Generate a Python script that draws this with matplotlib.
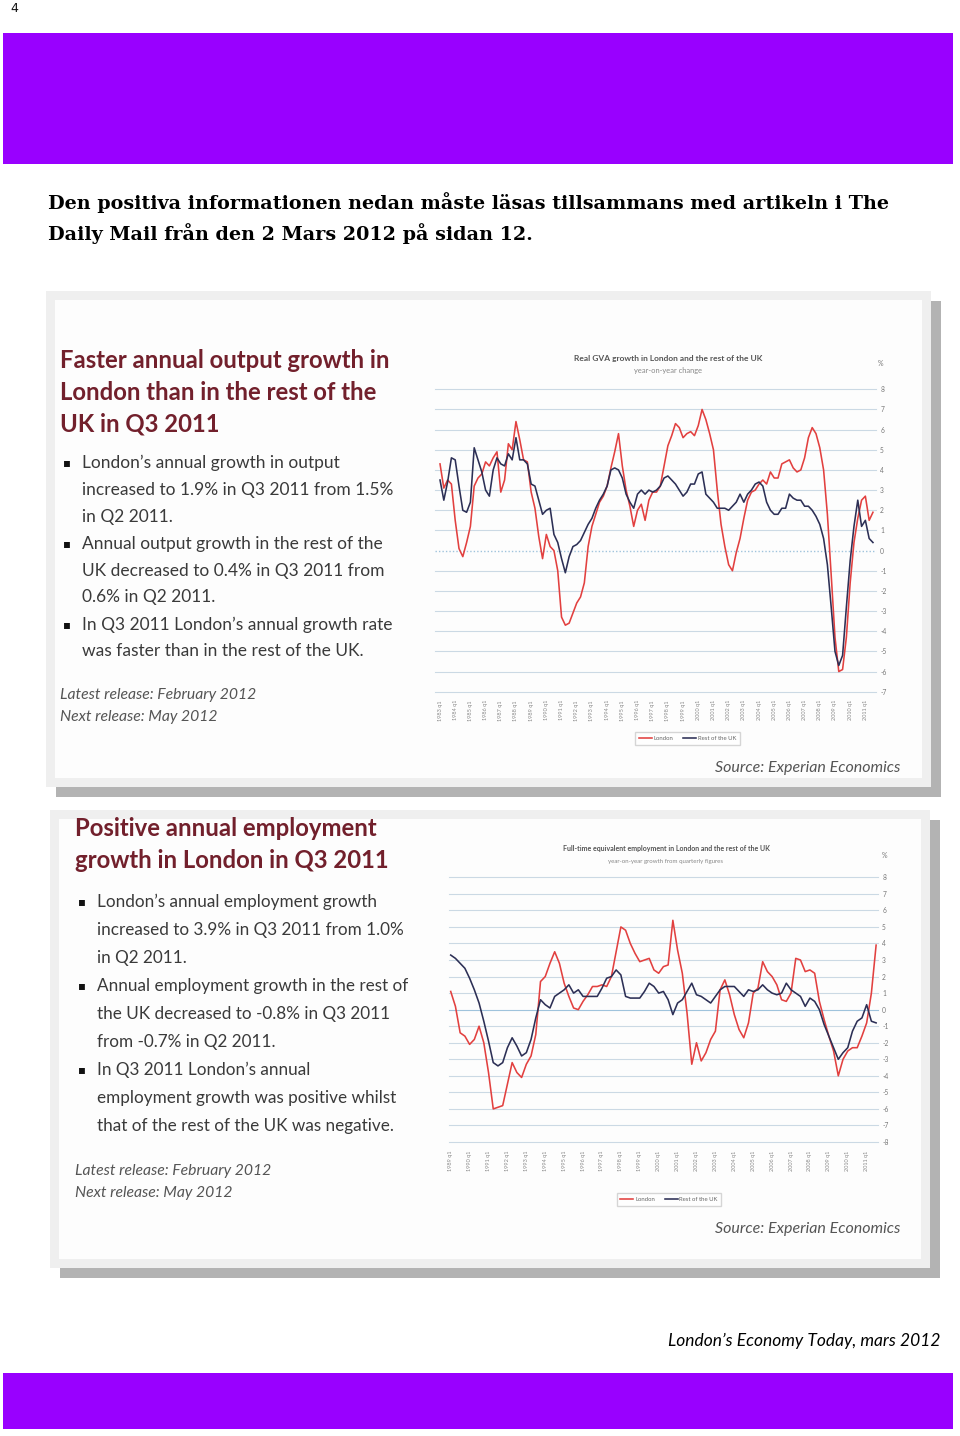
import matplotlib
matplotlib.use('Agg')
import matplotlib.pyplot as plt
from matplotlib.patches import Rectangle

plt.rcParams['font.family'] = ['Lato', 'DejaVu Sans']

# ---- data: real GVA growth, y/y %, 1983 q1 .. 2011 q3
gva_start_year = 1983
gva_london = [4.3, 3.1, 3.5, 3.3, 1.5, 0.1, -0.3, 0.4, 1.2, 3.2, 3.6, 3.8,
              4.4, 4.2, 4.6, 4.9, 2.9, 3.5, 5.3, 5.0, 6.4, 5.5, 4.5, 4.4,
              2.9, 2.1, 0.7, -0.4, 0.8, 0.2, 0.0, -1.0, -3.3, -3.7, -3.6, -3.1,
              -2.6, -2.3, -1.6, 0.2, 1.2, 1.8, 2.4, 2.7, 3.2, 4.1, 4.9, 5.8,
              4.2, 3.0, 2.2, 1.2, 2.0, 2.3, 1.5, 2.5, 2.9, 2.9, 3.2, 4.2,
              5.2, 5.7, 6.3, 6.1, 5.6, 5.8, 5.9, 5.7, 6.2, 7.0, 6.5, 5.8,
              5.0, 3.0, 1.3, 0.2, -0.7, -1.0, -0.1, 0.6, 1.6, 2.5, 2.9, 3.0,
              3.3, 3.5, 3.3, 3.9, 3.6, 3.6, 4.3, 4.4, 4.5, 4.1, 3.9, 4.0,
              4.6, 5.6, 6.1, 5.8, 5.1, 4.0, 1.8, -1.2, -4.3, -6.0, -5.9, -4.3,
              -1.6, 0.4, 1.6, 2.5, 2.7, 1.5, 1.9]
gva_rest = [3.5, 2.5, 3.4, 4.6, 4.5, 3.2, 2.0, 1.9, 2.4, 5.1, 4.5, 3.9,
            3.0, 2.7, 4.0, 4.6, 4.3, 4.2, 4.8, 4.5, 5.6, 4.5, 4.5, 4.3,
            3.3, 3.2, 2.5, 1.8, 2.0, 2.1, 0.8, 0.4, -0.4, -1.1, -0.3, 0.2,
            0.3, 0.5, 0.9, 1.3, 1.6, 2.1, 2.5, 2.8, 3.2, 4.0, 4.1, 4.0,
            3.6, 2.8, 2.4, 2.1, 2.8, 3.0, 2.8, 3.0, 2.9, 3.0, 3.2, 3.6,
            3.7, 3.5, 3.3, 3.0, 2.7, 2.9, 3.3, 3.3, 3.8, 3.9, 2.8, 2.6,
            2.4, 2.1, 2.1, 2.1, 2.0, 2.2, 2.4, 2.8, 2.4, 2.8, 3.0, 3.3,
            3.4, 3.2, 2.4, 2.0, 1.8, 1.8, 2.1, 2.1, 2.8, 2.6, 2.5, 2.5,
            2.2, 2.2, 2.0, 1.7, 1.3, 0.6, -0.7, -2.8, -5.0, -5.7, -5.2, -2.8,
            -0.5, 1.2, 2.5, 1.2, 1.5, 0.6, 0.4]

# ---- data: FTE employment growth, y/y %, 1989 q1 .. 2011 q3
emp_start_year = 1989
emp_london = [1.1, 0.2, -1.4, -1.6, -2.1, -1.8, -1.0, -2.0, -3.8, -6.0, -5.9, -5.8,
              -4.5, -3.2, -3.8, -4.1, -3.3, -2.8, -1.5, 1.7, 2.0, 2.8, 3.5, 2.8,
              1.6, 0.8, 0.1, 0.0, 0.5, 0.9, 1.4, 1.4, 1.5, 1.4, 2.0, 3.5,
              5.0, 4.8, 4.0, 3.4, 2.9, 3.0, 3.1, 2.4, 2.2, 2.6, 2.7, 5.4,
              3.6, 2.2, -0.2, -3.3, -2.0, -3.1, -2.6, -1.8, -1.3, 1.2, 1.8, 0.9,
              -0.3, -1.2, -1.7, -0.8, 1.0, 1.3, 2.9, 2.3, 2.0, 1.5, 0.6, 0.5,
              1.0, 3.1, 3.0, 2.3, 2.4, 2.2, 0.5, -0.6, -1.6, -2.5, -4.0, -3.0,
              -2.5, -2.3, -2.3, -1.6, -0.8, 1.0, 3.9]
emp_rest = [3.3, 3.1, 2.8, 2.5, 1.9, 1.2, 0.4, -0.7, -1.9, -3.2, -3.4, -3.2,
            -2.3, -1.7, -2.2, -2.8, -2.6, -1.8, -0.5, 0.6, 0.3, 0.1, 0.8, 1.0,
            1.2, 1.5, 1.0, 1.2, 0.8, 0.8, 0.8, 0.8, 1.3, 1.9, 2.0, 2.4,
            2.1, 0.8, 0.7, 0.7, 0.7, 1.1, 1.6, 1.4, 1.0, 1.1, 0.6, -0.3,
            0.4, 0.6, 1.1, 1.6, 0.9, 0.8, 0.6, 0.4, 0.8, 1.2, 1.4, 1.4,
            1.4, 1.1, 0.8, 1.2, 1.1, 1.2, 1.5, 1.2, 1.0, 0.9, 1.0, 1.6,
            1.2, 1.0, 0.8, 0.2, 0.7, 0.5, 0.0, -0.9, -1.6, -2.3, -3.0, -2.6,
            -2.3, -1.3, -0.7, -0.5, 0.3, -0.7, -0.8]

series_names = ['London', 'Rest of the UK']

header_lines = ['Den positiva informationen nedan måste läsas tillsammans med artikeln i The',
                'Daily Mail från den 2 Mars 2012 på sidan 12.']

gva_title = ['Faster annual output growth in', 'London than in the rest of the', 'UK in Q3 2011']
gva_bullets = [['London’s annual growth in output',
                'increased to 1.9% in Q3 2011 from 1.5%',
                'in Q2 2011.'],
               ['Annual output growth in the rest of the',
                'UK decreased to 0.4% in Q3 2011 from',
                '0.6% in Q2 2011.'],
               ['In Q3 2011 London’s annual growth rate',
                'was faster than in the rest of the UK.']]
emp_title = ['Positive annual employment', 'growth in London in Q3 2011']
emp_bullets = [['London’s annual employment growth',
                'increased to 3.9% in Q3 2011 from 1.0%',
                'in Q2 2011.'],
               ['Annual employment growth in the rest of',
                'the UK decreased to -0.8% in Q3 2011',
                'from -0.7% in Q2 2011.'],
               ['In Q3 2011 London’s annual',
                'employment growth was positive whilst',
                'that of the rest of the UK was negative.']]
release_lines = ['Latest release: February 2012', 'Next release: May 2012']

W, H = 960, 1436
PURPLE = '#9900ff'
MAROON = '#72202c'
RED = '#e2403f'
NAVY = '#2c2f55'
GRID = '#cbd9e4'

fig = plt.figure(figsize=(W / 100, H / 100), dpi=100)
bg = fig.add_axes([0, 0, 1, 1])
bg.set_xlim(0, W)
bg.set_ylim(H, 0)
bg.axis('off')


def box(x0, y0, x1, y1, color, z=0):
    bg.add_patch(Rectangle((x0, y0), x1 - x0, y1 - y0, facecolor=color, edgecolor='none', zorder=z))


# page furniture
bg.text(10, 9, '4', fontsize=9, family='DejaVu Sans', va='center', ha='left', color='#111')
box(3, 33, 953, 164, PURPLE)
box(3, 1373, 953, 1429, PURPLE)
for k, line in enumerate(header_lines):
    bg.text(48, 203 + k * 31, line, fontsize=13.75, family='DejaVu Serif', weight='bold',
            va='center', ha='left', color='#000')
bg.text(940, 1341, 'London’s Economy Today, mars 2012', fontsize=12.5, style='italic',
        va='center', ha='right', color='#000')

# the two framed panels (shadow, light frame, white page)
for (x0, y0, x1, y1) in [(46, 291, 931, 787), (50, 810, 930, 1268)]:
    box(x0 + 10, y0 + 10, x1 + 10, y1 + 10, '#b3b3b3', 1)
    box(x0, y0, x1, y1, '#efefef', 2)
    box(x0 + 9, y0 + 9, x1 - 9, y1 - 9, '#fdfdfd', 3)


def panel_text(x, title, title_y, bullets, bullet_y, dy, release_y, size):
    for k, line in enumerate(title):
        bg.text(x, title_y + k * 32, line, fontsize=17.2, weight='bold', color=MAROON,
                va='center', ha='left', zorder=5)
    y = bullet_y
    for group in bullets:
        bg.text(x + 3, y, '▪', fontsize=8.5, family='DejaVu Sans', color='#111',
                va='center', ha='left', zorder=5)
        for line in group:
            bg.text(x + 22, y, line, fontsize=size, color='#3a3a3a', va='center', ha='left', zorder=5)
            y += dy
    for k, line in enumerate(release_lines):
        bg.text(x, release_y + k * 22.5, line, fontsize=11.3, style='italic', color='#555',
                va='center', ha='left', zorder=5)


panel_text(60, gva_title, 360, gva_bullets, 463, 26.9, 695, 12.5)
panel_text(75, emp_title, 829, emp_bullets, 902, 28, 1171, 12.3)

bg.text(900, 768, 'Source: Experian Economics', fontsize=11.5, style='italic', color='#555',
        va='center', ha='right', zorder=5)
bg.text(900, 1229, 'Source: Experian Economics', fontsize=11.5, style='italic', color='#555',
        va='center', ha='right', zorder=5)


def chart(px_left, px_right, px_top, px_bottom, xlim, ylim, start_year, london, rest,
          title, subtitle, title_xy, title_size, pct_xy, legend_xy, dotted_zero):
    ax = fig.add_axes([px_left / W, 1 - px_bottom / H, (px_right - px_left) / W,
                       (px_bottom - px_top) / H])
    ax.set_zorder(6)
    ax.patch.set_alpha(0)
    q = list(range(len(london)))
    ax.plot(q, london, color=RED, lw=1.15, label=series_names[0], zorder=3)
    ax.plot(q, rest, color=NAVY, lw=1.15, label=series_names[1], zorder=4)
    ax.set_xlim(*xlim)
    ax.set_ylim(*ylim)
    years = list(range(start_year, start_year + (len(london) - 1) // 4 + 1))
    ax.set_xticks([4 * k for k in range(len(years))])
    ax.set_xticklabels([f'{y} q1' for y in years], rotation=90, fontsize=4, color='#888')
    ax.set_yticks(list(range(ylim[0], ylim[1] + 1)))
    ax.set_yticklabels([str(v) for v in range(ylim[0], ylim[1] + 1)], fontsize=4.8, color='#777')
    ax.yaxis.tick_right()
    ax.tick_params(axis='both', length=0)
    ax.tick_params(axis='x', pad=6)
    ax.tick_params(axis='y', pad=3)
    ax.grid(axis='y', color=GRID, lw=0.8)
    ax.set_axisbelow(True)
    for gl in ax.yaxis.get_gridlines():
        gl.set_clip_on(False)
    for s in ax.spines.values():
        s.set_visible(False)
    zero = ax.yaxis.get_gridlines()[-ylim[0]]
    zero.set_color('#9fc3dc')
    if dotted_zero:
        zero.set_linestyle((0, (1, 1.5)))
        zero.set_linewidth(1.0)
    leg = ax.legend(loc='center', bbox_to_anchor=(legend_xy[0] / W, 1 - legend_xy[1] / H),
                    bbox_transform=fig.transFigure, ncol=2, fontsize=4.3, frameon=True,
                    fancybox=False, edgecolor='#cccccc', handlelength=2.2, columnspacing=1.6,
                    borderpad=0.6, handletextpad=0.3)
    for t in leg.get_texts():
        t.set_color('#666')
    bg.text(title_xy[0], title_xy[1], title, fontsize=title_size, weight='bold', color='#555',
            ha='center', va='center', zorder=7)
    bg.text(title_xy[0], title_xy[1] + 13, subtitle, fontsize=title_size - 0.6, color='#888',
            ha='center', va='center', zorder=7)
    bg.text(pct_xy[0], pct_xy[1], '%', fontsize=5, color='#777', ha='center', va='center', zorder=7)
    return ax


chart(435, 876, 389.3, 691.7, (-1.32, 114.8), (-7, 8), gva_start_year, gva_london, gva_rest,
      'Real GVA growth in London and the rest of the UK', 'year-on-year change',
      (668, 358), 6.0, (881, 363), (687.5, 738.5), True)
chart(449, 878, 877.3, 1142, (-0.36, 90.4), (-8, 8), emp_start_year, emp_london, emp_rest,
      'Full-time equivalent employment in London and the rest of the UK',
      'year-on-year growth from quarterly figures',
      (666, 849), 5.0, (885, 856), (669, 1199.5), False)

fig.savefig('out.png', dpi=100)
